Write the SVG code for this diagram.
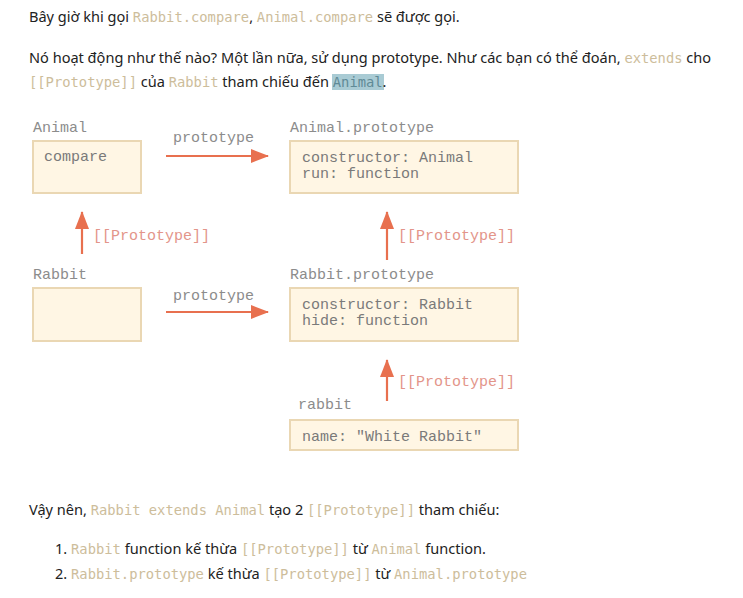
<svg xmlns="http://www.w3.org/2000/svg" width="743" height="598" viewBox="0 0 743 598">
<defs>
<marker id="ah" markerUnits="userSpaceOnUse" markerWidth="18" markerHeight="14" refX="17" refY="7" orient="auto">
<path d="M0,0 L18,7 L0,14 Z" fill="#e8704f"/>
</marker>
<style>
.t{font-family:"Noto Sans","Open Sans",sans-serif;font-size:14.55px;fill:#222}
.c{font-family:"DejaVu Sans Mono","Liberation Mono",monospace;font-size:13.8px;fill:#cdbd9b}
.lbl{font-family:"Liberation Mono","DejaVu Sans Mono",monospace;font-size:15px;fill:#8c8c8c}
.in{font-family:"Liberation Mono","DejaVu Sans Mono",monospace;font-size:15px;fill:#7a7a7a}
.pl{font-family:"Liberation Mono","DejaVu Sans Mono",monospace;font-size:15px;fill:#e3958a}
.box{fill:#fff6e4;stroke:#ead7b3;stroke-width:2}
.ar{stroke:#e8704f;stroke-width:2.2;fill:none}
</style>
</defs>
<rect width="743" height="598" fill="#ffffff"/>

<g id="text-top">
<text class="t" x="29" y="22">Bây giờ khi gọi <tspan class="c">Rabbit.compare</tspan>, <tspan class="c">Animal.compare</tspan> sẽ được gọi.</text>
<text class="t" x="29" y="63">Nó hoạt động như thế nào? Một lần nữa, sử dụng prototype. Như các bạn có thể đoán, <tspan class="c">extends</tspan> cho</text>
<rect x="332" y="74" width="52" height="16" fill="#a9cbd4"/>
<text class="t" x="29" y="87"><tspan class="c">[[Prototype]]</tspan> của <tspan class="c">Rabbit</tspan> tham chiếu đến <tspan class="c" style="fill:#5f8a96">Animal</tspan>.</text>
</g>

<g id="connectors">
<line class="ar" x1="166" y1="156" x2="268" y2="156" marker-end="url(#ah)"/>
<text class="lbl" x="173" y="142">prototype</text>
<line class="ar" x1="166" y1="312" x2="268" y2="312" marker-end="url(#ah)"/>
<text class="lbl" x="173" y="300">prototype</text>
<line class="ar" x1="82" y1="254" x2="82" y2="212" marker-end="url(#ah)"/>
<text class="pl" x="93" y="240">[[Prototype]]</text>
<line class="ar" x1="387" y1="260" x2="387" y2="212" marker-end="url(#ah)"/>
<text class="pl" x="398" y="240">[[Prototype]]</text>
<line class="ar" x1="387" y1="401" x2="387" y2="360" marker-end="url(#ah)"/>
<text class="pl" x="398" y="386">[[Prototype]]</text>
</g>

<g id="animal">
<text class="lbl" x="33" y="132">Animal</text>
<rect class="box" x="33" y="141" width="108" height="52"/>
<text class="in" x="44" y="161">compare</text>
</g>

<g id="animal-prototype">
<text class="lbl" x="290" y="132">Animal.prototype</text>
<rect class="box" x="290" y="141" width="228" height="52"/>
<text class="in" x="302" y="162">constructor: Animal</text>
<text class="in" x="302" y="178">run: function</text>
</g>

<g id="rabbit-fn">
<text class="lbl" x="33" y="279">Rabbit</text>
<rect class="box" x="33" y="288" width="108" height="53"/>
</g>

<g id="rabbit-prototype">
<text class="lbl" x="290" y="279">Rabbit.prototype</text>
<rect class="box" x="290" y="288" width="228" height="53"/>
<text class="in" x="302" y="309">constructor: Rabbit</text>
<text class="in" x="302" y="325">hide: function</text>
</g>

<g id="rabbit">
<text class="lbl" x="298" y="409">rabbit</text>
<rect class="box" x="290" y="420" width="228" height="30"/>
<text class="in" x="302" y="441">name: "White Rabbit"</text>
</g>

<g id="text-bottom">
<text class="t" x="29" y="515">Vậy nên, <tspan class="c">Rabbit extends Animal</tspan> tạo 2 <tspan class="c">[[Prototype]]</tspan> tham chiếu:</text>
<text class="t" x="55" y="554">1. <tspan class="c">Rabbit</tspan> function kế thừa <tspan class="c">[[Prototype]]</tspan> từ <tspan class="c">Animal</tspan> function.</text>
<text class="t" x="55" y="579">2. <tspan class="c">Rabbit.prototype</tspan> kế thừa <tspan class="c">[[Prototype]]</tspan> từ <tspan class="c">Animal.prototype</tspan></text>
</g>
</svg>
